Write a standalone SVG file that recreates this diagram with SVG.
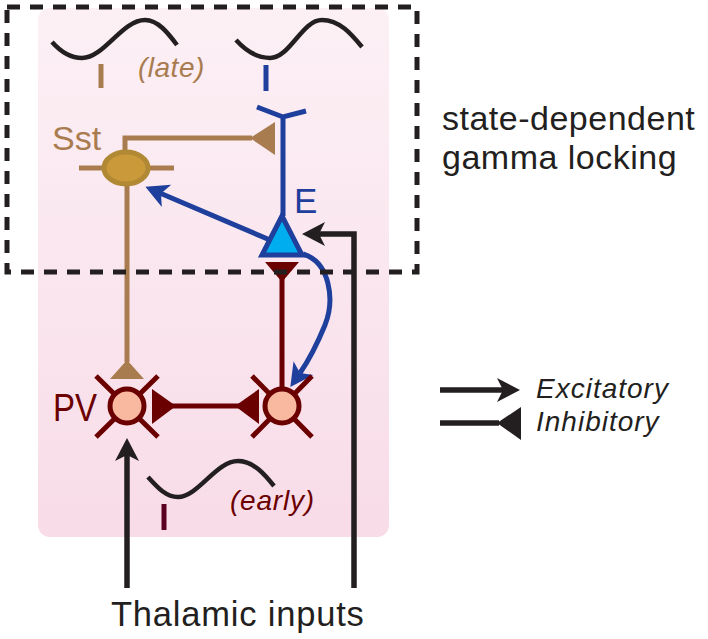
<svg xmlns="http://www.w3.org/2000/svg" width="708" height="639" viewBox="0 0 708 639">
<style>
text{font-family:"Liberation Sans",Arial,sans-serif}
.it{font-style:italic}
.tan{stroke:#a97c50;stroke-width:5;fill:none}
.tanf{fill:#a97c50}
.blue{stroke:#1f3f9c;stroke-width:5;fill:none}
.red{stroke:#6b0000;stroke-width:5;fill:none}
.redf{fill:#6b0000}
.blk{stroke:#231f20;stroke-width:5.5;fill:none}
.wave{stroke:#231f20;stroke-width:4.5;fill:none;stroke-linecap:butt}
.cell{fill:#f9b9a0;stroke:#6b0000;stroke-width:5}
</style>
<defs>
<linearGradient id="pink" x1="0" y1="0" x2="0" y2="1">
<stop offset="0" stop-color="#fcf0f5"/>
<stop offset="1" stop-color="#f8dce8"/>
</linearGradient>
<marker id="ab" markerUnits="userSpaceOnUse" markerWidth="24" markerHeight="26" refX="6" refY="13" orient="auto" overflow="visible">
<path d="M23,13 L0,1 L6,13 L0,25 Z" fill="#231f20"/>
</marker>
<marker id="au" markerUnits="userSpaceOnUse" markerWidth="24" markerHeight="26" refX="6" refY="13" orient="auto" overflow="visible">
<path d="M23,13 L0,1 L6,13 L0,25 Z" fill="#1f3f9c"/>
</marker>
</defs>
<rect x="38" y="8" width="351" height="529" rx="12" fill="url(#pink)"/>
<g id="waves">
<path class="wave" d="M52,42 C60,51 70,58 82,58 C104,58 122,20 145,20 C158,20 168,33 177,45"/>
<path class="wave" d="M236,40 C246,51 257,58 270,58 C290,58 302,20 322,20 C340,20 352,35 362,47"/>
<path class="wave" d="M148,477 C158,488 166,497 178,497 C198,497 216,461 238,461 C254,461 266,476 274,486"/>
<line x1="101" y1="64" x2="101" y2="88" stroke="#a97c50" stroke-width="5"/>
<line x1="266" y1="65" x2="266" y2="91" stroke="#1f3f9c" stroke-width="5"/>
<line x1="164" y1="504" x2="164" y2="530" stroke="#5c0022" stroke-width="5"/>
<text x="138" y="77" class="it" font-size="28" fill="#a97c50" letter-spacing="0.5">(late)</text>
<text x="230" y="510" class="it" font-size="28" fill="#6b0000" letter-spacing="0.8">(early)</text>
</g>
<g id="connectors">
<path class="tan" d="M125,150 V138 H252"/>
<polygon class="tanf" points="250,138 275,122 275,155"/>
<line class="tan" x1="127" y1="186" x2="127" y2="362"/>
<polygon class="tanf" points="127,360 110,379 144,379"/>
<line class="blue" x1="270" y1="240" x2="161" y2="193.5" marker-end="url(#au)"/>
<path class="blue" d="M303,254 C330,262 335,300 325,325 C318,342 309,360 300,373" marker-end="url(#au)"/>
<line class="red" x1="282" y1="278" x2="282" y2="390"/>
<polygon class="redf" points="265,262 299,262 282,282"/>
<line class="red" x1="170" y1="406" x2="240" y2="406"/>
<polygon class="redf" points="152,389 152,424 176,406"/>
<polygon class="redf" points="259,389 259,424 235,406"/>
<path class="blk" d="M354,588 V234 H319" marker-end="url(#ab)"/>
<path class="blk" d="M127,588 V455" marker-end="url(#ab)"/>
</g>
<g id="E">
<path class="blue" d="M257,107 L283,117 L306,111 M283,117 V216"/>
<polygon points="282,216 262,255 302,255" fill="#00aeef" stroke="#1f3f9c" stroke-width="5"/>
<text x="294" y="213" font-size="35" fill="#1f3f9c">E</text>
</g>
<g id="Sst">
<line class="tan" x1="79" y1="168" x2="174" y2="168"/>
<ellipse cx="126" cy="168" rx="22" ry="16" fill="#c9993a" stroke="#b18935" stroke-width="5"/>
<text x="52" y="150" font-size="34" fill="#a97c50">Sst</text>
</g>
<g id="PV">
<path class="red" d="M96,376 L158,437 M158,376 L96,437"/>
<circle class="cell" cx="127" cy="406" r="17"/>
<text x="53" y="421" font-size="38" fill="#6b0000" textLength="44" lengthAdjust="spacingAndGlyphs">PV</text>
</g>
<g id="E2">
<path class="red" d="M252,376 L312,437 M312,376 L252,437"/>
<circle class="cell" cx="282" cy="406" r="17"/>
</g>
<rect x="7" y="7" width="410" height="265" fill="none" stroke="#231f20" stroke-width="5" stroke-dasharray="13 10"/>
<g id="gamma-label">
<text x="442" y="130" font-size="34" fill="#231f20" letter-spacing="0.5">state-dependent</text>
<text x="442" y="168.5" font-size="34" fill="#231f20" letter-spacing="0.5">gamma locking</text>
</g>
<g id="thalamic">
<text x="111" y="626" font-size="34.5" fill="#231f20" letter-spacing="0.8">Thalamic inputs</text>
</g>
<g id="legend">
<line class="blk" x1="440" y1="390" x2="503" y2="390" marker-end="url(#ab)"/>
<line class="blk" x1="440" y1="423" x2="499" y2="423"/>
<polygon points="497,423 521,407 521,440" fill="#231f20"/>
<text x="536" y="398" class="it" font-size="28" fill="#231f20" letter-spacing="1">Excitatory</text>
<text x="536" y="431" class="it" font-size="28" fill="#231f20" letter-spacing="1">Inhibitory</text>
</g>
</svg>
